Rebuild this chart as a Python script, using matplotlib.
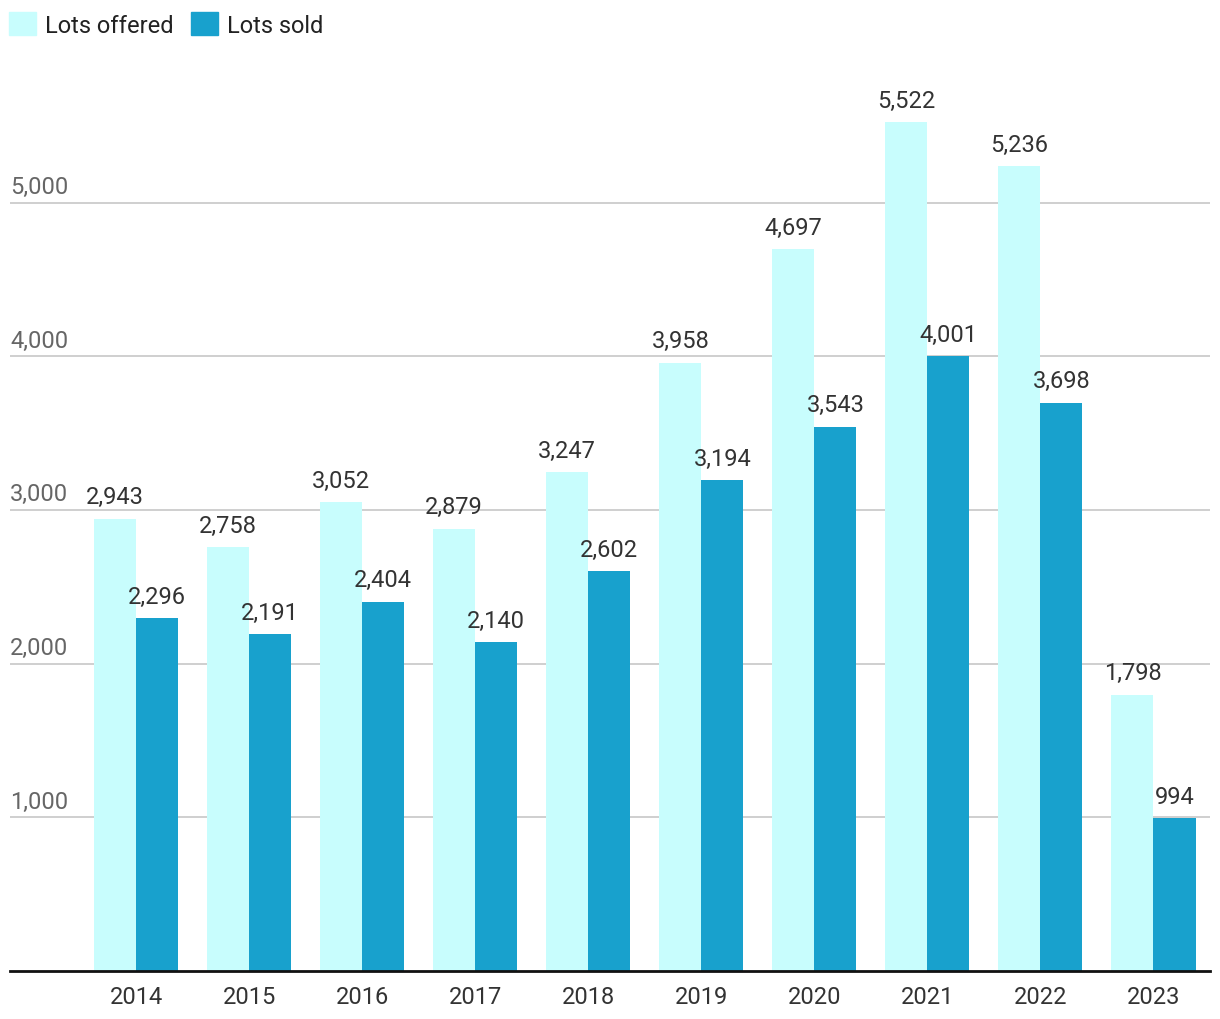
import matplotlib
matplotlib.use("Agg")
import matplotlib.pyplot as plt
import numpy as np
from matplotlib.patches import Patch
from matplotlib.transforms import offset_copy

years = ["2014", "2015", "2016", "2017", "2018", "2019", "2020", "2021", "2022", "2023"]
lots_offered = [2943, 2758, 3052, 2879, 3247, 3958, 4697, 5522, 5236, 1798]
lots_sold = [2296, 2191, 2404, 2140, 2602, 3194, 3543, 4001, 3698, 994]
y_ticks = [1000, 2000, 3000, 4000, 5000]

plt.rcParams['font.family'] = ['Roboto', 'DejaVu Sans']

c_off = "#C8FDFD"
c_sold = "#18A1CD"
FS = 17

fig = plt.figure(figsize=(12.2, 10.2), dpi=100)
ax = fig.add_axes([10/1220, 48/1020, 1200/1220, 922/1020])

x = np.arange(len(years))
w = 0.372
b1 = ax.bar(x - w/2, lots_offered, w, color=c_off, zorder=2)
b2 = ax.bar(x + w/2, lots_sold, w, color=c_sold, zorder=2)

for bars, vals in ((b1, lots_offered), (b2, lots_sold)):
    for r, v in zip(bars, vals):
        ax.annotate(f"{v:,}", (r.get_x() + r.get_width()/2, v), xytext=(0, 7.5),
                    textcoords="offset points", ha="center", va="bottom",
                    fontsize=FS, color="#333333", zorder=3)

ax.set_xlim(-1.115, 9.5)
ax.set_ylim(0, 6000)
ax.set_xticks(x)
ax.set_xticklabels(years, fontsize=FS, color="#333333")
ax.tick_params(axis="x", length=0, pad=10)
ax.set_yticks([])
ytrans = offset_copy(ax.get_yaxis_transform(), fig=fig, x=0, y=3.5, units="points")
for t in y_ticks:
    ax.axhline(t, color="#CCCCCC", lw=1.3, zorder=1)
    ax.text(0, t, f"{t:,}", transform=ytrans, ha="left",
            va="bottom", fontsize=FS, color="#666666")

for s in ["top", "right", "left"]:
    ax.spines[s].set_visible(False)
ax.spines["bottom"].set_color("#111111")
ax.spines["bottom"].set_linewidth(2)
ax.spines["bottom"].set_zorder(4)

handles = [Patch(color=c_off, label="Lots offered"), Patch(color=c_sold, label="Lots sold")]
fig.legend(handles=handles, loc="upper left", bbox_to_anchor=(9/1220, 1 - 13/1020),
           ncol=2, frameon=False, fontsize=FS, handlelength=1.15, handleheight=1.15,
           handletextpad=0.38, columnspacing=0.72, borderpad=0, borderaxespad=0,
           labelcolor="#222222")

fig.savefig("out.png", dpi=100)
